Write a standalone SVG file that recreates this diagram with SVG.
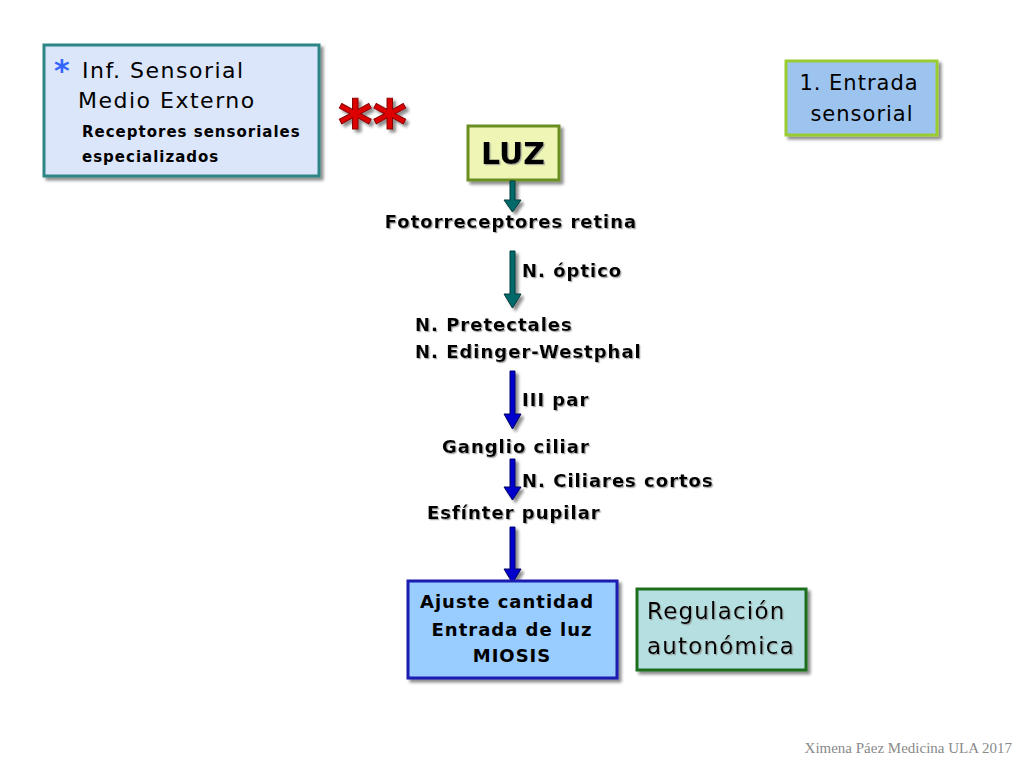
<svg xmlns="http://www.w3.org/2000/svg" width="1024" height="768" viewBox="0 0 1024 768">
<defs>
<filter id="sh" x="-10%" y="-10%" width="130%" height="130%">
<feDropShadow dx="3" dy="3" stdDeviation="1.5" flood-color="#000" flood-opacity="0.45"/>
</filter>
<filter id="ts" x="-5%" y="-20%" width="115%" height="150%">
<feDropShadow dx="1.2" dy="1.2" stdDeviation="0.4" flood-color="#888" flood-opacity="0.7"/>
</filter>
<style>
text{font-family:"DejaVu Sans","Noto Sans",sans-serif;fill:#000}
.b{font-weight:bold;font-size:18px;letter-spacing:1px}
.lbl{filter:url(#ts)}
.teal{fill:#006b6b;stroke:#003b3b;stroke-width:1}
.blue{fill:#0000cc;stroke:#000066;stroke-width:1}
</style>
</defs>
<rect width="1024" height="768" fill="#fff"/>

<g id="info-box">
<rect x="44" y="45" width="275" height="131" fill="#dbe6fb" stroke="#2e8585" stroke-width="3" filter="url(#sh)"/>
<text x="54" y="81" font-size="30" style="fill:#3366ff" font-weight="bold">*</text>
<text x="82" y="78" font-size="22" letter-spacing="1.5">Inf. Sensorial</text>
<text x="78" y="108" font-size="22" letter-spacing="1.5">Medio Externo</text>
<text x="82" y="137" font-size="15" font-weight="bold" letter-spacing="1">Receptores sensoriales</text>
<text x="82" y="162" font-size="15" font-weight="bold" letter-spacing="1">especializados</text>
</g>

<g id="stars" filter="url(#sh)">
<text x="338" y="147" font-size="66" font-weight="bold" style="fill:#dd0000;stroke:#880000;stroke-width:1">**</text>
</g>

<g id="entrada-box">
<rect x="786" y="61" width="151" height="74" fill="#9dc3ef" stroke="#99cc33" stroke-width="3" filter="url(#sh)"/>
<text x="859" y="90" font-size="21" letter-spacing="1" text-anchor="middle">1. Entrada</text>
<text x="862" y="121" font-size="21" letter-spacing="1" text-anchor="middle">sensorial</text>
</g>

<g id="luz">
<rect x="468" y="126" width="91" height="54" fill="#eef5b5" stroke="#6b8e23" stroke-width="3" filter="url(#sh)"/>
<text x="513" y="164" font-size="30" font-weight="bold" text-anchor="middle" class="lbl">LUZ</text>
</g>

<g id="connectors" filter="url(#sh)">
<path class="teal" d="M510 181 h5 v19 h6 l-8.5 12 l-8.5 -12 h6 z"/>
<path class="teal" d="M510 251 h5 v43 h6 l-8.5 14 l-8.5 -14 h6 z"/>
<path class="blue" d="M510 371 h5 v43 h6 l-8.5 15 l-8.5 -15 h6 z"/>
<path class="blue" d="M510 459 h5 v28 h6 l-8.5 13 l-8.5 -13 h6 z"/>
<path class="blue" d="M510 527 h5 v42 h6 l-8.5 14 l-8.5 -14 h6 z"/>
</g>

<g id="fotorreceptores">
<text x="511" y="228" class="b lbl" text-anchor="middle">Fotorreceptores retina</text>
</g>
<g id="n-optico">
<text x="522" y="277" class="b lbl">N. óptico</text>
</g>
<g id="nucleos">
<text x="415" y="331" class="b lbl">N. Pretectales</text>
<text x="415" y="358" class="b lbl">N. Edinger-Westphal</text>
</g>
<g id="iii-par">
<text x="522" y="406" class="b lbl">III par</text>
</g>
<g id="ganglio">
<text x="442" y="453" class="b lbl">Ganglio ciliar</text>
</g>
<g id="ciliares">
<text x="522" y="487" class="b lbl">N. Ciliares cortos</text>
</g>
<g id="esfinter">
<text x="427" y="519" class="b lbl">Esfínter pupilar</text>
</g>

<g id="ajuste">
<rect x="408" y="581" width="209" height="97" fill="#99ccff" stroke="#1a1ab0" stroke-width="3" filter="url(#sh)"/>
<text x="507" y="608" class="b" text-anchor="middle">Ajuste cantidad</text>
<text x="512" y="636" class="b" text-anchor="middle">Entrada de luz</text>
<text x="512" y="662" class="b" text-anchor="middle">MIOSIS</text>
</g>

<g id="regulacion">
<rect x="637" y="589" width="169" height="81" fill="#b5dfe0" stroke="#1e6e1e" stroke-width="3" filter="url(#sh)"/>
<text x="647" y="619" font-size="23" letter-spacing="1.2" class="lbl">Regulación</text>
<text x="647" y="654" font-size="23" letter-spacing="1.2" class="lbl">autonómica</text>
</g>

<g id="footer">
<text x="1012" y="753" font-size="15" text-anchor="end" style="font-family:'Liberation Serif',serif;fill:#8a8a8a">Ximena Páez Medicina ULA 2017</text>
</g>
</svg>
